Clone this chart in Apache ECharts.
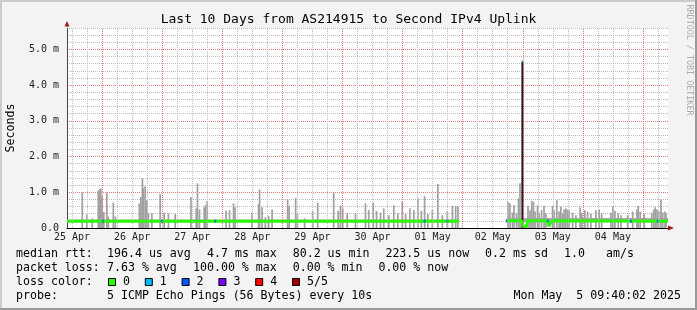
<!DOCTYPE html>
<html><head><meta charset="utf-8">
<script src="https://cdn.jsdelivr.net/npm/echarts@6/dist/echarts.min.js"></script>
<style>html,body{margin:0;padding:0;background:#f3f3f3}#c{width:697px;height:310px}</style>
</head><body><div id="c"></div>
<script>
// ---- data (x = hours since 25 Apr 00:00, y = milliseconds) ----
const dayLabels = ['25 Apr','26 Apr','27 Apr','28 Apr','29 Apr','30 Apr','01 May','02 May','03 May','04 May'];
const dayLabelHours = [12,36,60,84,108,132,156,180,204,228];

const segStart = [10, 185.6];
const segEnd = [166.5, 250];
const smokeLow = [0.16, 0.16];
const smokeHigh = [0.24, 0.28];

const spikeHours = [16.1,17.9,20.1,22.5,22.9,23.5,24.0,24.7,25.9,26.5,28.5,29.3,38.9,39.5,40.1,40.5,41.2,41.9,42.5,43.9,47.2,48.8,50.5,53.2,59.5,61.6,62.1,62.9,64.8,65.3,66.0,73.5,74.9,76.5,77.1,83.9,86.5,86.9,87.9,89.2,90.5,91.9,98.1,98.7,101.3,102.0,104.9,108.1,110.1,116.5,118.3,119.2,120.1,121.9,125.2,129.2,130.5,132.3,133.6,135.2,136.5,138.5,140.5,142.1,143.9,145.2,146.9,148.5,150.1,151.5,152.8,154.1,155.9,158.1,159.9,161.9,163.9,165.2,166.1,
 186.1,186.9,187.9,188.5,189.5,190.3,190.9,194.1,194.9,195.6,196.3,196.9,197.9,198.5,199.5,200.5,201.2,203.9,204.5,205.6,206.5,207.2,207.9,208.5,209.2,209.9,210.5,211.9,213.2,214.9,215.6,216.8,217.9,219.2,221.2,222.5,223.5,227.2,228.0,228.8,230.1,231.2,233.9,235.9,237.6,238.1,238.9,240.5,243.5,244.3,244.9,245.6,246.3,247.2,247.9,248.8,249.2];
const spikeHigh = [0.99,0.38,0.27,1.04,1.08,1.11,0.89,0.45,0.99,0.32,0.71,0.32,0.69,0.87,1.39,1.11,1.17,0.78,0.41,0.41,0.95,0.43,0.41,0.39,0.87,0.55,1.25,0.52,0.58,0.64,0.76,0.48,0.50,0.69,0.58,0.43,0.67,1.08,0.58,0.30,0.34,0.52,0.80,0.62,0.84,0.41,0.27,0.48,0.71,0.99,0.48,0.62,0.55,0.41,0.41,0.69,0.50,0.71,0.48,0.43,0.55,0.36,0.64,0.41,0.74,0.39,0.55,0.50,0.83,0.48,0.89,0.39,0.50,1.23,0.36,0.46,0.62,0.62,0.60,
 0.73,0.69,0.43,0.64,0.41,0.83,1.25,0.62,0.50,0.76,0.73,0.46,0.64,0.43,0.50,0.62,0.41,0.62,0.50,0.78,0.46,0.60,0.41,0.52,0.55,0.52,0.50,0.43,0.36,0.58,0.43,0.50,0.46,0.39,0.50,0.52,0.41,0.43,0.60,0.48,0.41,0.36,0.36,0.46,0.52,0.62,0.46,0.41,0.43,0.52,0.58,0.52,0.48,0.80,0.43,0.46,0.41];

const bigSpikeHour = [191.9];
const bigSpikeValue = [4.66];

const medianHours  = [10, 166.5, 176, 185.6, 191.5, 192.3, 193.4, 194.0, 201.9, 202.4, 203.0, 203.6, 250];
const medianValues = [0.19, 0.19, null, 0.2, 0.2, 0.04, 0.04, 0.2, 0.2, 0.05, 0.05, 0.2, 0.19];

const loss2Hours = [24.3, 47.9, 69.2, 152.8, 161.9, 185.6, 202.0, 235.2, 245.9];
const loss2Values = [0.19, 0.19, 0.19, 0.19, 0.19, 0.2, 0.2, 0.19, 0.19];

const lossColors = ['#26ff00','#00b8ff','#0059ff','#7e00ff','#ff0000','#a10000'];
const lossLabels = ['0','1','2','3','4','5/5'];

// ---- styles ----
const MONO = '"DejaVu Sans Mono", monospace';
const GRID_MINOR = '#bdbdbd';
const GRID_MAJOR = '#e27a7a';

// vertical grid every 6 hours (minor), red at midnight (major)
const minorGridHours = [], majorGridHours = [];
for (let h = 12; h <= 246; h += 6) (h % 24 === 0 ? majorGridHours : minorGridHours).push(h);

const chart = echarts.init(document.getElementById('c'), null, {renderer: 'canvas'});

const lineFont = '11.6px ' + MONO;
function txt(x, y, s, align) {
  return {type: 'text', x: x, y: y, silent: true,
    style: {text: s, font: lineFont, fill: '#000', verticalAlign: 'middle', align: align || 'left'}};
}
const legendLines = [
  [254, [[16,'median rtt:'],[107,'196.4 us avg'],[207,'4.7 ms max'],[292.7,'80.2 us min'],[385.4,'223.5 us now'],[485.1,'0.2 ms sd'],[564,'1.0'],[606,'am/s']]],
  [268, [[16,'packet loss:'],[107,'7.63 % avg'],[193,'100.00 % max'],[292.7,'0.00 % min'],[378.4,'0.00 % now']]],
  [282, [[16,'loss color:']]],
  [296, [[16,'probe:'],[107,'5 ICMP Echo Pings (56 Bytes) every 10s']]]
];
const graphics = [
  {type:'rect', shape:{x:0,y:0,width:697,height:2}, style:{fill:'#cbcbcb'}, silent:true},
  {type:'rect', shape:{x:0,y:0,width:2,height:310}, style:{fill:'#cbcbcb'}, silent:true},
  {type:'rect', shape:{x:0,y:308,width:697,height:2}, style:{fill:'#999999'}, silent:true},
  {type:'rect', shape:{x:695,y:0,width:2,height:310}, style:{fill:'#999999'}, silent:true},
  // axis arrows
  {type:'polygon', shape:{points:[[64.5,26.5],[69.5,26.5],[67,21]]}, style:{fill:'#9b1c1c'}, silent:true, z:10},
  {type:'polygon', shape:{points:[[668,225.5],[668,230.5],[674,228]]}, style:{fill:'#9b1c1c'}, silent:true, z:10},
  // watermark
  {type:'text', x:689, y:60, rotation:-Math.PI/2, silent:true,
   style:{text:'RRDTOOL / TOBI OETIKER', font:'8.4px ' + MONO, fill:'#ababab', align:'center', verticalAlign:'middle'}}
];
legendLines.forEach(([y, items]) => items.forEach(([x, s]) => graphics.push(txt(x, y, s))));
graphics.push(txt(681, 296, 'Mon May  5 09:40:02 2025', 'right'));
lossColors.forEach((c, i) => {
  const bx = 108 + i * 36.8;
  graphics.push({type:'rect', shape:{x:bx+0.5, y:278.5, width:7, height:7}, style:{fill:c, stroke:'#000', lineWidth:1}, silent:true});
  graphics.push(txt(bx + 15, 282, lossLabels[i]));
});

const smokeAreas = segStart.map((s, i) => [{xAxis: s, yAxis: smokeLow[i]}, {xAxis: segEnd[i], yAxis: smokeHigh[i]}]);

chart.setOption({
  animation: false,
  backgroundColor: '#f3f3f3',
  title: {text: 'Last 10 Days from AS214915 to Second IPv4 Uplink', left: 'center', top: 8,
    textStyle: {fontFamily: MONO, fontSize: 13, fontWeight: 'normal', color: '#000'}},
  grid: {left: 67, right: 29, top: 28, bottom: 82, show: true, backgroundColor: '#ffffff', borderWidth: 0,
    containLabel: false, outerBoundsMode: 'none'},
  xAxis: {
    type: 'value', min: 10, max: 250,
    axisLine: {show: true, onZero: false, lineStyle: {color: '#000', width: 1}},
    axisTick: {show: false},
    axisLabel: {customValues: dayLabelHours, formatter: v => dayLabels[dayLabelHours.indexOf(v)],
      fontFamily: MONO, fontSize: 10, color: '#222', margin: 4},
    splitLine: {show: false}
  },
  yAxis: {
    type: 'value', min: 0, max: 5.6, interval: 0.2,
    name: 'Seconds', nameLocation: 'middle', nameGap: 50, nameRotate: 90,
    nameTextStyle: {fontFamily: MONO, fontSize: 11.6, color: '#000'},
    axisLine: {show: true, lineStyle: {color: '#444', width: 1}},
    axisTick: {show: false},
    axisLabel: {fontFamily: MONO, fontSize: 10, color: '#222', margin: 8,
      formatter: v => Math.abs(v - Math.round(v)) < 1e-6 ? (Math.round(v) === 0 ? '0.0' : Math.round(v).toFixed(1) + ' m') : ''},
    splitLine: {show: true, lineStyle: {color: [GRID_MAJOR, GRID_MINOR, GRID_MINOR, GRID_MINOR, GRID_MINOR], type: [1, 1], width: 1}}
  },
  graphic: graphics,
  series: [
    {type: 'line', z: 1, silent: true, symbol: 'none', data: [],
     markLine: {silent: true, symbol: ['none', 'none'], label: {show: false}, animation: false,
       lineStyle: {type: [1, 1], width: 1, color: GRID_MINOR}, data: minorGridHours.map(h => ({xAxis: h}))}},
    {type: 'line', z: 1, silent: true, symbol: 'none', data: [],
     markLine: {silent: true, symbol: ['none', 'none'], label: {show: false}, animation: false,
       lineStyle: {type: [1, 1], width: 1, color: GRID_MAJOR}, data: majorGridHours.map(h => ({xAxis: h}))}},
    {type: 'bar', barWidth: 1.7, silent: true, z: 2,
     itemStyle: {color: '#a0a0a0'},
     data: spikeHours.map((h, i) => [h, spikeHigh[i]]),
     markArea: {silent: true, itemStyle: {color: '#a9a9a9'}, data: smokeAreas}},
    {type: 'line', silent: true, z: 3, symbol: 'none', lineStyle: {color: '#261a1a', width: 2.2},
     data: [[bigSpikeHour[0], 0.0], [bigSpikeHour[0], bigSpikeValue[0]]]},
    {type: 'line', silent: true, z: 3, symbol: 'none', connectNulls: false,
     lineStyle: {color: lossColors[0], width: 3},
     data: medianHours.map((h, i) => [h, medianValues[i] === null ? '-' : medianValues[i]])},
    {type: 'scatter', silent: true, z: 4, symbol: 'rect', symbolSize: [2, 3], itemStyle: {color: lossColors[2]},
     data: loss2Hours.map((h, i) => [h, loss2Values[i]])},
    {type: 'scatter', silent: true, z: 4, symbol: 'rect', symbolSize: [2, 2], itemStyle: {color: lossColors[1]},
     data: [[bigSpikeHour[0], bigSpikeValue[0]]]}
  ]
});
</script></body></html>
